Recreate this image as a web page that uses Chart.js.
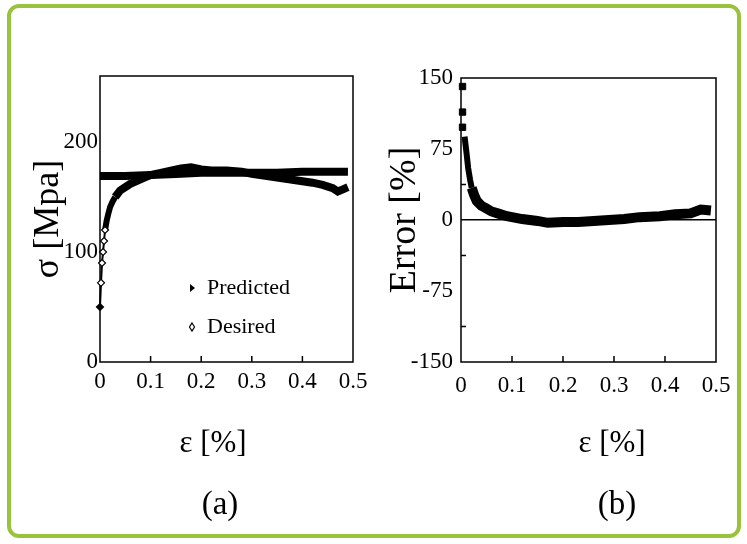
<!DOCTYPE html>
<html>
<head>
<meta charset="utf-8">
<script src="https://cdn.jsdelivr.net/npm/chart.js@4/dist/chart.umd.min.js"></script>
<style>
  body { margin: 0; background: #fff; }
  #wrap { position: relative; width: 747px; height: 544px; overflow: hidden; }
  #frame {
    position: absolute; left: 7px; top: 4px; width: 734px; height: 534px;
    box-sizing: border-box; border: 4px solid #9bc23c; border-radius: 12px;
  }
  canvas { position: absolute; top: 0; }
  .lbl {
    position: absolute; font-family: 'Liberation Serif', 'Times New Roman', serif;
    color: #000; transform: translate(-50%, -50%); white-space: nowrap;
  }
</style>
</head>
<body>
<div id="wrap">
  <div id="frame"></div>
  <canvas id="chartA" width="380" height="544" style="left:0"></canvas>
  <canvas id="chartB" width="367" height="544" style="left:380px"></canvas>
  <div class="lbl" style="left:213px; top:442px; font-size:31px">ε [%]</div>
  <div class="lbl" style="left:612px; top:442px; font-size:31px">ε [%]</div>
  <div class="lbl" style="left:220px; top:503px; font-size:33px">(a)</div>
  <div class="lbl" style="left:617px; top:503px; font-size:33px">(b)</div>
</div>
<script>
// --- data ---
// (a) stress vs strain
const strainPredicted = [0, 0.05, 0.1, 0.15, 0.2, 0.25, 0.3, 0.35, 0.4, 0.45, 0.49];
const stressPredicted = [169, 169, 170, 171, 172, 172, 172, 172, 173, 173, 173];

const strainDesired = [0, 0.002, 0.004, 0.006, 0.008, 0.01, 0.013, 0.016, 0.02, 0.025, 0.03, 0.04, 0.05, 0.06, 0.07,
  0.08, 0.09, 0.1, 0.12, 0.14, 0.16, 0.18, 0.2, 0.22, 0.25, 0.28, 0.3, 0.33, 0.36, 0.39, 0.42, 0.44, 0.46, 0.47, 0.48, 0.49];
const stressDesired = [50, 72, 90, 100, 110, 120, 128, 134, 141, 146, 150, 156, 159, 162, 164,
  166, 168, 170, 172, 174, 176, 177, 175, 174, 174, 173, 171, 169, 167, 165, 163, 161, 158, 155, 157, 159];

// (b) error vs strain
const strainError = [0.007, 0.011, 0.014, 0.018, 0.021, 0.026, 0.031, 0.04, 0.047, 0.06, 0.072, 0.09, 0.12, 0.15,
  0.17, 0.2, 0.23, 0.26, 0.29, 0.32, 0.35, 0.39, 0.42, 0.45, 0.47, 0.49];
const errorValues = [88, 70, 55, 42, 34, 26, 20, 15, 13, 9, 7, 4, 1, -1,
  -3, -2, -2, -1, 0, 1, 3, 4, 6, 7, 11, 10];
const strainSpikes = [0.003, 0.003, 0.003];
const errorSpikes = [141, 114, 98];

// axes
const xTicks = [0, 0.1, 0.2, 0.3, 0.4, 0.5];
const xMarks = [0.1, 0.2, 0.3, 0.4];
const stressTicks = [0, 100, 200];
const stressMarks = [];
const errorTicks = [-150, -75, 0, 75, 150];
const errorMarks = [-112.5, -37.5, 37.5, 112.5];

const serif = "'Liberation Serif', 'Times New Roman', serif";
const pts = (xs, ys) => xs.map((x, i) => ({ x: x, y: ys[i] }));

// box round the plot + short inward tick marks
const boxTicks = {
  id: 'boxTicks',
  beforeDatasetsDraw(chart, args, opts) {
    const { ctx, chartArea: a, scales: { x, y } } = chart;
    ctx.save();
    ctx.strokeStyle = '#000';
    ctx.lineWidth = 1.5;
    ctx.strokeRect(a.left, a.top, a.width, a.height);
    ctx.beginPath();
    opts.xMarks.forEach(v => {
      const px = x.getPixelForValue(v);
      ctx.moveTo(px, a.bottom);
      ctx.lineTo(px, a.bottom - 6);
    });
    opts.yMarks.forEach(v => {
      const py = y.getPixelForValue(v);
      ctx.moveTo(a.left, py);
      ctx.lineTo(a.left + 5, py);
    });
    ctx.stroke();
    ctx.restore();
  }
};

// legend inside plot (a)
const innerLegend = {
  id: 'innerLegend',
  afterDraw(chart, args, opts) {
    if (!opts.show) return;
    const { ctx, chartArea: a } = chart;
    const mx = a.left + 92, tx = a.left + 107;
    const rows = [a.top + 212, a.top + 251];
    ctx.save();
    ctx.font = '22px ' + serif;
    ctx.fillStyle = '#000';
    ctx.textBaseline = 'middle';
    chart.data.datasets.forEach((ds, i) => {
      const yy = rows[i];
      ctx.fillText(ds.label, tx, yy);
      ctx.beginPath();
      if (i === 0) {
        ctx.moveTo(mx - 2, yy - 4);
        ctx.lineTo(mx + 3, yy);
        ctx.lineTo(mx - 2, yy + 4);
        ctx.closePath();
        ctx.fill();
      } else {
        ctx.moveTo(mx, yy - 4);
        ctx.lineTo(mx + 2.5, yy);
        ctx.lineTo(mx, yy + 4);
        ctx.lineTo(mx - 2.5, yy);
        ctx.closePath();
        ctx.lineWidth = 1.2;
        ctx.stroke();
      }
    });
    ctx.restore();
  }
};

function xScale(height, pad) {
  return {
    type: 'linear', min: 0, max: 0.5,
    afterBuildTicks: s => { s.ticks = xTicks.map(v => ({ value: v })); },
    afterFit: s => { s.height = height; },
    grid: { display: false, drawTicks: false },
    border: { display: false },
    ticks: { color: '#000', padding: pad, maxRotation: 0, font: { family: serif, size: 23 }, callback: v => String(v) }
  };
}

new Chart(document.getElementById('chartA'), {
  type: 'scatter',
  data: {
    datasets: [
      {
        label: 'Predicted',
        data: pts(strainPredicted, stressPredicted),
        showLine: true, borderColor: '#000', borderWidth: 8, pointRadius: 0, clip: 8
      },
      {
        label: 'Desired',
        data: pts(strainDesired, stressDesired),
        showLine: true, borderColor: '#000', borderWidth: 8, clip: 8,
        segment: { borderWidth: c => c.p0.parsed.x < 0.009 ? 2 : (c.p0.parsed.x < 0.03 ? 6 : 8) },
        pointStyle: 'rectRot',
        pointRadius: c => (c.raw && c.raw.x < 0.011) ? 3.5 : 0,
        pointBorderWidth: 1.2,
        pointBorderColor: '#000',
        pointBackgroundColor: c => c.dataIndex === 0 ? '#000' : '#fff'
      }
    ]
  },
  options: {
    responsive: false, animation: false,
    layout: { padding: { top: 76, right: 27, left: 0, bottom: 0 } },
    plugins: {
      legend: { display: false }, tooltip: { enabled: false },
      boxTicks: { xMarks: xMarks, yMarks: stressMarks },
      innerLegend: { show: true }
    },
    scales: {
      x: xScale(182, 6),
      y: {
        type: 'linear', min: 0, max: 260,
        afterBuildTicks: s => { s.ticks = stressTicks.map(v => ({ value: v })); },
        afterFit: s => { s.width = 100; },
        grid: { display: false, drawTicks: false },
        border: { display: false },
        ticks: { color: '#000', padding: 2, font: { family: serif, size: 23 } },
        title: { display: true, text: 'σ [Mpa]', color: '#000', font: { family: serif, size: 36 }, padding: { top: 27, bottom: 0 } }
      }
    }
  },
  plugins: [boxTicks, innerLegend]
});

new Chart(document.getElementById('chartB'), {
  type: 'scatter',
  data: {
    datasets: [
      {
        label: 'Error',
        data: pts(strainError, errorValues),
        showLine: true, borderColor: '#000', borderWidth: 10, pointRadius: 0, clip: 8,
        segment: { borderWidth: c => c.p0.parsed.x < 0.02 ? 6 : 10 }
      },
      {
        label: 'Error start',
        data: pts(strainSpikes, errorSpikes),
        pointStyle: 'rect', pointRadius: 4.5, backgroundColor: '#000', borderColor: '#000', clip: 8
      }
    ]
  },
  options: {
    responsive: false, animation: false,
    layout: { padding: { top: 78, right: 31, left: 0, bottom: 0 } },
    plugins: {
      legend: { display: false }, tooltip: { enabled: false },
      boxTicks: { xMarks: xMarks, yMarks: errorMarks },
      innerLegend: { show: false }
    },
    scales: {
      x: xScale(182, 10),
      y: {
        type: 'linear', min: -150, max: 150,
        afterBuildTicks: s => { s.ticks = errorTicks.map(v => ({ value: v })); },
        afterFit: s => { s.width = 81; },
        grid: {
          drawTicks: false,
          lineWidth: 1.5,
          color: c => (c.tick && c.tick.value === 0) ? '#000' : 'rgba(0,0,0,0)'
        },
        border: { display: false },
        ticks: { color: '#000', padding: 8, font: { family: serif, size: 23 } },
        title: { display: true, text: 'Error [%]', color: '#000', font: { family: serif, size: 38 }, padding: { top: 2, bottom: 0 } }
      }
    }
  },
  plugins: [boxTicks, innerLegend]
});
</script>
</body>
</html>
